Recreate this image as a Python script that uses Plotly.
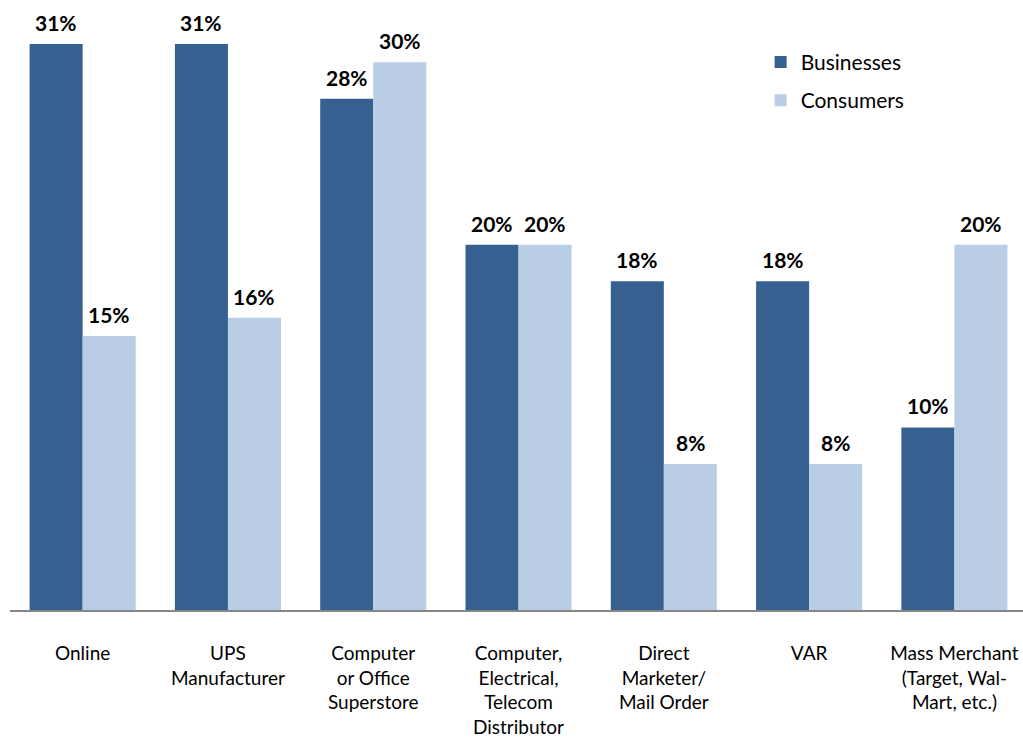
import plotly.graph_objects as go

categories = [
    "Online",
    "UPS<br>Manufacturer",
    "Computer<br>or Office<br>Superstore",
    "Computer,<br>Electrical,<br>Telecom<br>Distributor",
    "Direct<br>Marketer/<br>Mail Order",
    "VAR",
    "Mass Merchant<br>(Target, Wal-<br>Mart, etc.)",
]
businesses = [31, 31, 28, 20, 18, 18, 10]
consumers = [15, 16, 30, 20, 8, 8, 20]

series = [
    ("Businesses", businesses, "#36608F"),
    ("Consumers", consumers, "#B9CDE5"),
]

FONT = "Lato, Carlito, Calibri, sans-serif"
BARGAP = 0.27

fig = go.Figure()
for i, (name, vals, color) in enumerate(series):
    fig.add_trace(go.Bar(
        x=categories, y=vals, name=name,
        marker=dict(color=color, line=dict(width=0)),
        legendgroup=name,
    ))

# value labels above each bar, shifted to the bar's slot within its group
half = (1 - BARGAP) / 2
for s, (name, vals, color) in enumerate(series):
    offset = -half / 2 if s == 0 else half / 2
    for i, v in enumerate(vals):
        fig.add_annotation(
            x=i + offset, y=v, xref="x", yref="y",
            text=f"<b>{v}%</b>", showarrow=False,
            yanchor="bottom", yshift=7,
            font=dict(family=FONT, size=21, color="#000000"),
        )

fig.update_layout(
    width=1023, height=740,
    margin=dict(l=10, r=0, t=10, b=130),
    paper_bgcolor="white", plot_bgcolor="white",
    barmode="group", bargap=BARGAP, bargroupgap=0,
    font=dict(family=FONT, size=19, color="#000000"),
    showlegend=True,
    legend=dict(
        x=0.741, y=0.947, xanchor="left", yanchor="top",
        font=dict(family=FONT, size=21, color="#000000"),
        bgcolor="rgba(0,0,0,0)", tracegroupgap=8,
    ),
)
fig.update_xaxes(
    type="category", range=[-0.5, 6.472],
    showline=True, linecolor="#868686", linewidth=2,
    ticks="", ticklabelstandoff=25,
    tickfont=dict(family=FONT, size=19, color="#000000"),
    showgrid=False, zeroline=False,
)
fig.update_yaxes(
    range=[0, 32.86], visible=False, showgrid=False, zeroline=False,
)

fig.write_html("out.html")
